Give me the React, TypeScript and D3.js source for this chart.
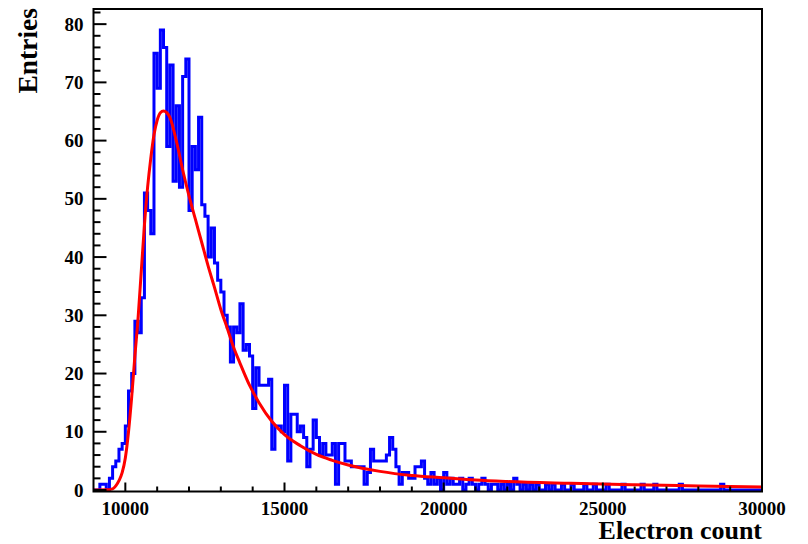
import React from "react";
import * as d3 from "d3";

// Histogram binning: first bin edge and bin width (electron count)
const binStart = 9000;
const binWidth = 100;

// Entries per bin, 9000 .. 29900
const counts: number[] = [
  0, 0, 1, 1, 0, 2, 4, 5, 7, 8,
  11, 17, 20, 29, 27, 33, 51, 48, 44, 75,
  69, 79, 76, 59, 73, 53, 66, 52, 71, 74,
  48, 59, 55, 64, 49, 47, 40, 45, 39, 36,
  34, 30, 28, 22, 28, 27, 32, 24, 25, 23,
  14, 21, 18, 18, 18, 19, 7, 11, 11, 10,
  18, 5, 13, 13, 10, 11, 9, 4, 7, 12,
  9, 6, 8, 6, 6, 8, 1, 8, 8, 5,
  5, 4, 4, 4, 4, 1, 3, 7, 5, 5,
  5, 5, 6, 9, 7, 4, 1, 3, 3, 2,
  2, 4, 4, 5, 2, 1, 3, 1, 2, 0,
  3, 1, 2, 1, 1, 2, 0, 1, 2, 1,
  0, 1, 2, 1, 0, 1, 1, 0, 1, 0,
  1, 0, 2, 1, 0, 1, 0, 1, 0, 1,
  0, 0, 1, 0, 1, 0, 0, 1, 0, 0,
  1, 0, 0, 0, 1, 0, 0, 1, 0, 0,
  0, 1, 0, 0, 0, 0, 1, 0, 0, 0,
  0, 0, 1, 0, 0, 0, 1, 0, 0, 0,
  0, 0, 0, 0, 1, 0, 0, 0, 0, 0,
  0, 0, 0, 0, 0, 0, 0, 1, 0, 0,
  0, 0, 0, 0, 0, 0, 0, 0, 0, 0,
];

// Fitted curve, sampled (electron count, entries)
const fitX: number[] = [
  9000, 9400, 9600, 9700, 9800, 9900, 10000, 10100, 10200, 10300, 10400, 10500,
  10600, 10700, 10800, 10900, 11000, 11100, 11200, 11300, 11400, 11600, 11800,
  12000, 12200, 12400, 12600, 12800, 13000, 13200, 13400, 13600, 13900, 14200,
  14600, 15000, 15500, 16000, 16500, 17000, 18000, 19000, 20000, 21000, 22000,
  24000, 26000, 28000, 30000,
];
const fitY: number[] = [
  0, 0.03, 0.2, 0.7, 1.6, 3, 5.5, 10, 16, 23, 29.5, 37.5,
  45.5, 52, 57, 61, 63.5, 64.8, 65.1, 64.8, 64, 60, 55,
  50.5, 46.5, 42.5, 38.5, 34.8, 31, 27.8, 24.5, 21.8, 18, 15,
  11.8, 9.5, 7.6, 6.1, 5.1, 4.3, 3.2, 2.5, 2.1, 1.7, 1.45,
  1.15, 0.9, 0.7, 0.5,
];

const xMajorTicks: number[] = [10000, 15000, 20000, 25000, 30000];
const yMajorTicks: number[] = [0, 10, 20, 30, 40, 50, 60, 70, 80];

const xTitle = "Electron count";
const yTitle = "Entries";

const W = 808;
const H = 544;
// frame box and the data area (zero level sits just above the bottom frame line)
const frame = { left: 93.5, right: 762, top: 9, bottom: 491.5 };
const zeroY = 490;

const FONT = "'Liberation Serif', 'DejaVu Serif', serif";

export default function App() {
  const x = d3.scaleLinear().domain([9000, 30000]).range([frame.left, frame.right]);
  const y = d3.scaleLinear().domain([0, 82.6]).range([zeroY, frame.top]);

  // step outline of the histogram
  const steps: [number, number][] = counts.map((c, i) => [binStart + i * binWidth, c]);
  steps.push([binStart + counts.length * binWidth, counts[counts.length - 1]]);
  const histPath =
    d3
      .line<[number, number]>()
      .x((d) => x(d[0]))
      .y((d) => y(d[1]))
      .curve(d3.curveStepAfter)(steps) || "";

  const fitPts: [number, number][] = fitX.map((v, i) => [v, fitY[i]]);
  const fitPath =
    d3
      .line<[number, number]>()
      .x((d) => x(d[0]))
      .y((d) => y(d[1]))
      .curve(d3.curveMonotoneX)(fitPts) || "";

  const xMinor = d3.range(10000, 30001, 1000).filter((v) => !xMajorTicks.includes(v));
  const yMinor = d3.range(0, 83, 2).filter((v) => !yMajorTicks.includes(v));

  return (
    <svg
      width={W}
      height={H}
      viewBox={`0 0 ${W} ${H}`}
      style={{ position: "absolute", left: 0, top: 0, background: "#fff" }}
    >
      <defs>
        <clipPath id="plotClip">
          <rect
            x={frame.left}
            y={frame.top}
            width={frame.right - frame.left}
            height={frame.bottom - frame.top}
          />
        </clipPath>
      </defs>

      <g clipPath="url(#plotClip)">
        <path d={histPath} fill="none" stroke="#0000ff" strokeWidth={3} strokeLinejoin="miter" />
        <path d={fitPath} fill="none" stroke="#ff0000" strokeWidth={3} />
      </g>

      {/* frame */}
      <rect
        x={frame.left}
        y={frame.top}
        width={frame.right - frame.left}
        height={frame.bottom - frame.top}
        fill="none"
        stroke="#000"
        strokeWidth={2}
      />

      {/* axis ticks */}
      <g stroke="#000" strokeWidth={2}>
        {xMajorTicks.map((v) => (
          <line key={`xM${v}`} x1={x(v)} x2={x(v)} y1={frame.bottom} y2={frame.bottom - 9} />
        ))}
        {xMinor.map((v) => (
          <line key={`xm${v}`} x1={x(v)} x2={x(v)} y1={frame.bottom} y2={frame.bottom - 5} />
        ))}
        {yMajorTicks.map((v) => (
          <line key={`yM${v}`} x1={frame.left} x2={frame.left + 13} y1={y(v)} y2={y(v)} />
        ))}
        {yMinor.map((v) => (
          <line key={`ym${v}`} x1={frame.left} x2={frame.left + 7} y1={y(v)} y2={y(v)} />
        ))}
      </g>

      {/* tick labels */}
      <g fontFamily={FONT} fontWeight="bold" fontSize={19} fill="#000">
        {xMajorTicks.map((v) => (
          <text key={`xl${v}`} x={x(v)} y={514.5} textAnchor="middle">
            {String(v)}
          </text>
        ))}
        {yMajorTicks.map((v) => (
          <text key={`yl${v}`} x={83.5} y={y(v) + 6.5} textAnchor="end">
            {String(v)}
          </text>
        ))}
      </g>

      {/* axis titles */}
      <text
        x={frame.right}
        y={538.5}
        textAnchor="end"
        fontFamily={FONT}
        fontWeight="bold"
        fontSize={26}
        fill="#000"
      >
        {xTitle}
      </text>
      <text
        transform={`translate(37, 8) rotate(-90)`}
        textAnchor="end"
        fontFamily={FONT}
        fontWeight="bold"
        fontSize={27.5}
        fill="#000"
      >
        {yTitle}
      </text>
    </svg>
  );
}
